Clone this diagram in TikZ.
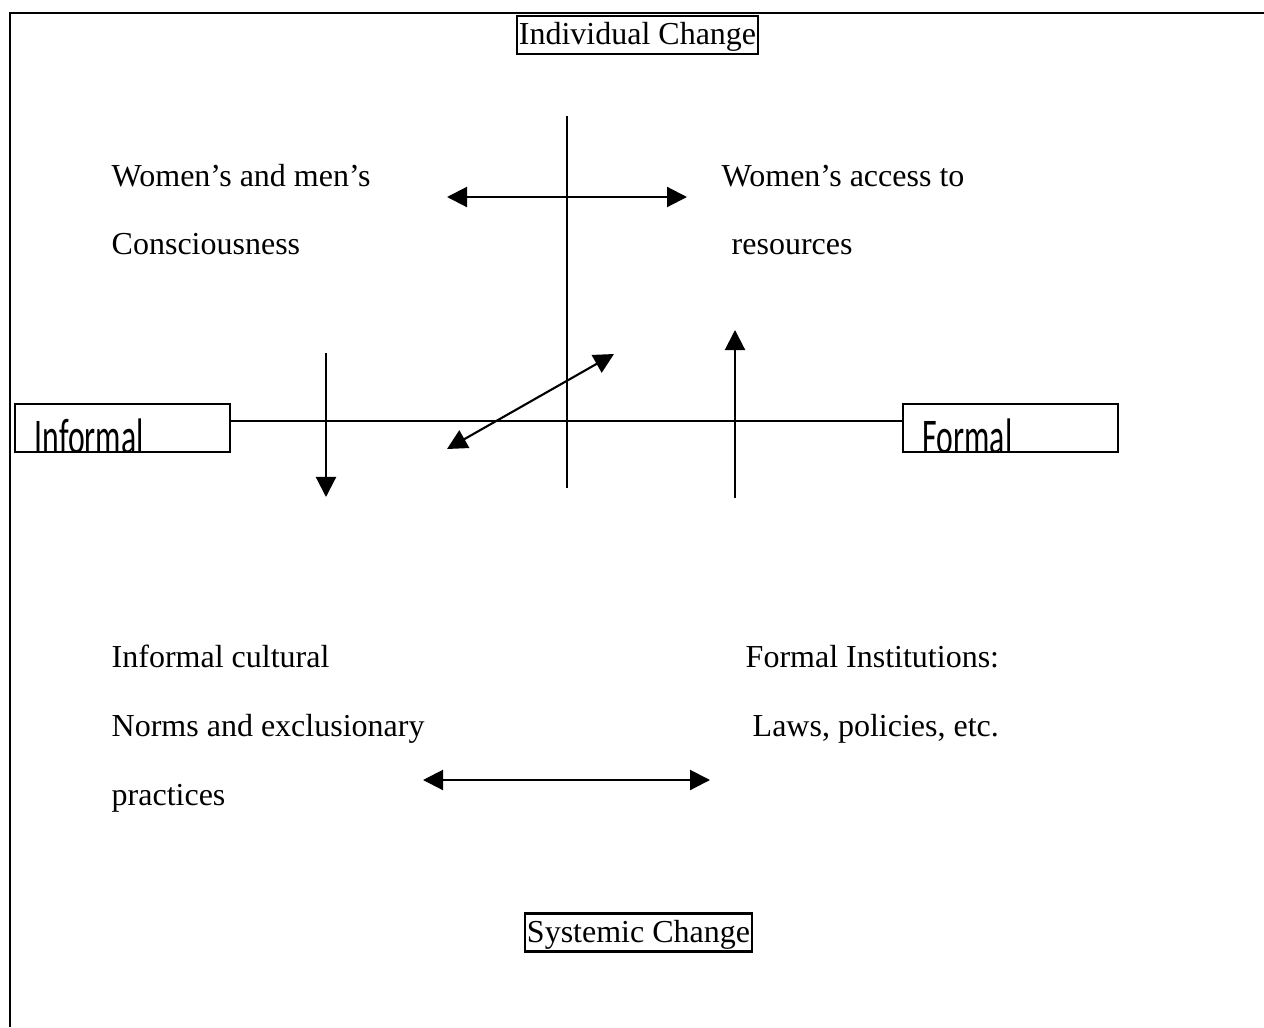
\documentclass[tikz,border=0pt]{standalone}
\usepackage{fontspec}
\setmainfont{Liberation Serif}
\newfontfamily\tagfont[FakeStretch=0.635]{Carlito}
\usetikzlibrary{arrows.meta, positioning, calc}

\begin{document}
\begin{tikzpicture}[
  x=0.01cm, y=-0.01cm,
  line/.style={line width=0.6pt, black},
  frame/.style={line width=0.85pt, black},
  arrow/.style={line, -{Triangle[length=0.2cm, width=0.2cm]}},
  darrow/.style={line, {Triangle[length=0.2cm, width=0.2cm]}-{Triangle[length=0.2cm, width=0.2cm]}},
  label/.style={font=\fontsize{9.1}{11}\selectfont, anchor=base west, inner sep=0pt},
  changebox/.style={draw, line width=0.6pt, font=\fontsize{9.1}{11}\selectfont, text height=0.25cm, text depth=0.06cm, minimum height=0.38cm, inner sep=0.5pt},
  endbox/.style={draw, line width=0.55pt, minimum width=2.15cm, minimum height=0.48cm, inner sep=0pt},
  tagtext/.style={font=\tagfont\fontsize{14.2}{16}\selectfont, anchor=base west, inner sep=0pt}
]
\useasboundingbox (0,0) rectangle (1264,1027);

% Frame
\draw[frame] (10,1027) -- (10,13) -- (1264,13);

% Top and bottom titles
\node[changebox, minimum width=2.39cm] (individual) at (637.5,35) {Individual Change};
\node[changebox, minimum width=2.25cm] (systemic) at (638.5,932.5) {Systemic Change};

% --- End boxes (text cut off by the box) ---
\node[endbox] (informal) at (122.5,428) {};
\begin{scope}
  \clip (informal.south west) rectangle (informal.north east);
  \node[tagtext] (informaltext) at ($(informal.north west)+(20,50)$) {Informal};
\end{scope}
\node[endbox] (formal) at (1010.5,428) {};
\begin{scope}
  \clip (formal.south west) rectangle (formal.north east);
  \node[tagtext] (formaltext) at ($(formal.north west)+(20,50)$) {Formal};
\end{scope}

% --- Axes ---
\coordinate (vtop) at (567,116);
\coordinate (vbot) at (567,488);
\coordinate (hleft) at (230,421);
\coordinate (hright) at (903,421);
\draw[line] (vtop) -- (vbot);
\draw[line] (hleft) -- (hright);

% --- Quadrant labels ---
\node[label] (consc1) at (111,186) {Women’s and men’s};
\node[label] (consc2) at (111,254) {Consciousness};
\node[label] (access1) at (721,186) {Women’s access to};
\node[label] (access2) at (731,254) {resources};
\node[label] (norms1) at (111,667) {Informal cultural};
\node[label] (norms2) at (111,736) {Norms and exclusionary};
\node[label] (norms3) at (111,805) {practices};
\node[label] (inst1) at (745,667) {Formal Institutions:};
\node[label] (inst2) at (752,736) {Laws, policies, etc.};

% --- Arrows ---
\coordinate (topl) at (447,197);
\coordinate (topr) at (687,197);
\draw[darrow] (topl) -- (topr);

\coordinate (diagl) at (447,449);
\coordinate (diagr) at (614,354);
\draw[darrow] (diagl) -- (diagr);

\coordinate (downs) at (326,353);
\coordinate (downe) at (326,497);
\draw[arrow] (downs) -- (downe);

\coordinate (ups) at (735,498);
\coordinate (upe) at (735,330);
\draw[arrow] (ups) -- (upe);

\coordinate (botl) at (423,780);
\coordinate (botr) at (710,780);
\draw[darrow] (botl) -- (botr);

\end{tikzpicture}
\end{document}
